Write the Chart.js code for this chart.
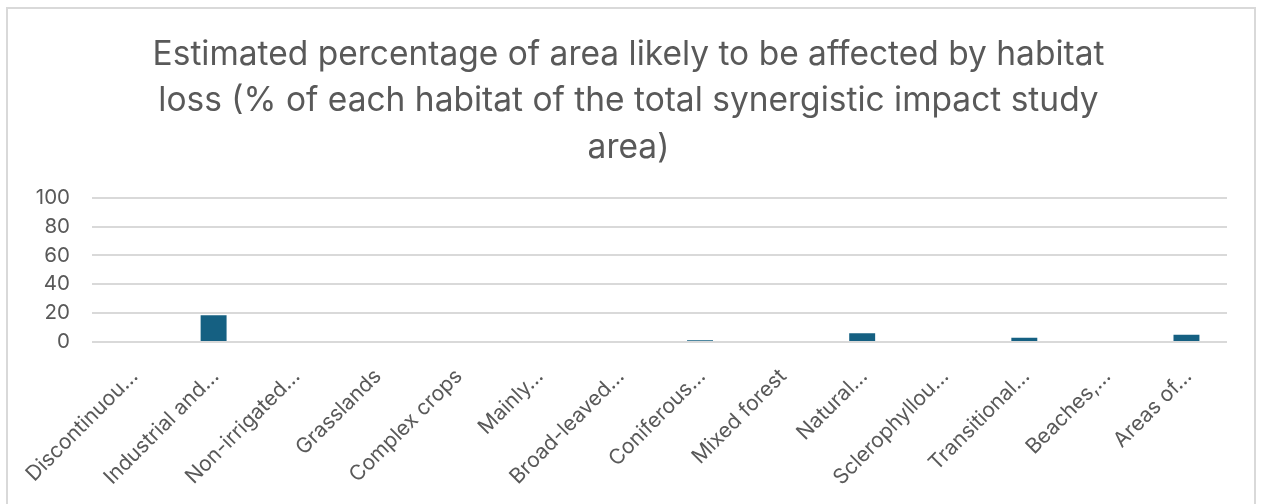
<!DOCTYPE html>
<html>
<head>
<meta charset="utf-8">
<script src="https://cdn.jsdelivr.net/npm/chart.js@4/dist/chart.umd.min.js"></script>
<style>
  html, body { margin: 0; padding: 0; background: #fff; }
  #frame {
    position: absolute; left: 6px; top: 7px;
    width: 1250px; height: 510px;
    border: 2px solid #d9d9d9; box-sizing: border-box;
  }
  #frame canvas { display: block; }
</style>
</head>
<body>
<div id="frame"><canvas id="habitatChart" width="1246" height="506"></canvas></div>
<script>
// Habitat categories (labels as shown on the axis)
const habitats = [
    'Discontinuou…', 'Industrial and…', 'Non-irrigated…', 'Grasslands',
    'Complex crops', 'Mainly…', 'Broad-leaved…', 'Coniferous…',
    'Mixed forest', 'Natural…', 'Sclerophyllou…', 'Transitional…',
    'Beaches,…', 'Areas of…'
];
// % of each habitat likely to be lost
const lossPct = [0, 18.5, 0, 0, 0, 0, 0, 1.2, 0, 6, 0, 3, 0, 5];
const yTicks = [0, 20, 40, 60, 80, 100];

const titleLines = [
    'Estimated percentage of area likely to be affected by habitat',
    'loss (% of each habitat of the total synergistic impact study',
    'area)'
];

const grey = '#595959';
const font = 'Inter, "Noto Sans", sans-serif';

new Chart(document.getElementById('habitatChart'), {
    type: 'bar',
    data: {
        labels: habitats,
        datasets: [{
            data: lossPct,
            backgroundColor: '#156082',
            borderWidth: 0,
            categoryPercentage: 1,
            barPercentage: 0.32
        }]
    },
    options: {
        responsive: false,
        animation: false,
        layout: { padding: { left: 22, right: 27, top: 22, bottom: 0 } },
        plugins: {
            legend: { display: false },
            tooltip: { enabled: false },
            title: {
                display: true,
                text: titleLines,
                color: grey,
                font: { family: font, size: 33.5, weight: 'normal', lineHeight: 1.4 },
                padding: { top: 0, bottom: 26 }
            }
        },
        scales: {
            x: {
                grid: { display: false },
                border: { display: false },
                // fixed axis band; rotated labels may overhang the y labels
                afterFit: axis => {
                    axis.height = 173;
                    axis.paddingLeft = 0;
                    axis.paddingRight = 0;
                },
                ticks: {
                    color: grey,
                    font: { family: font, size: 21 },
                    minRotation: 45,
                    maxRotation: 45,
                    autoSkip: false,
                    padding: 14,
                    labelOffset: 2
                }
            },
            y: {
                min: 0,
                max: 100,
                afterBuildTicks: axis => { axis.ticks = yTicks.map(v => ({ value: v })); },
                afterFit: axis => { axis.width = 62; },
                grid: { color: '#d9d9d9', lineWidth: 2, drawTicks: false },
                border: { display: false },
                ticks: {
                    color: grey,
                    font: { family: font, size: 20.5 },
                    padding: 22
                }
            }
        }
    }
});
</script>
</body>
</html>
